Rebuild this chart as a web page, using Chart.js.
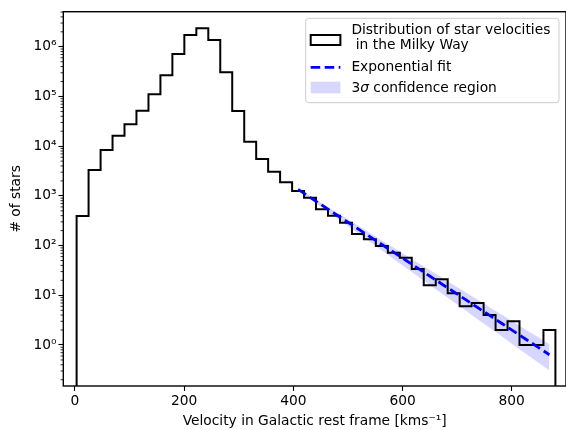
<!DOCTYPE html>
<html>
<head>
<meta charset="utf-8">
<title>Distribution of star velocities</title>
<script src="https://cdn.jsdelivr.net/npm/chart.js@4.4.1/dist/chart.umd.min.js"></script>
<style>
  html, body { margin: 0; padding: 0; background: #fff; }
  #starChart { display: block; }
</style>
</head>
<body>
<canvas id="starChart" width="566" height="430"></canvas>
<script>
// Bords des classes de l'histogramme (km/s)
const binEdges = [3.0, 24.9, 46.9, 68.8, 90.7, 112.6, 134.6, 156.5, 178.4, 200.3,
  222.3, 244.2, 266.1, 288.0, 310.0, 331.9, 353.8, 375.7, 397.7, 419.6,
  441.5, 463.4, 485.4, 507.3, 529.2, 551.1, 573.1, 595.0, 616.9, 638.8,
  660.8, 682.7, 704.6, 726.5, 748.5, 770.4, 792.3, 814.2, 836.2, 858.1, 880.0];

// Nombre d'étoiles par classe
const starCounts = [394, 3320, 8390, 16300, 27600, 51800, 110700, 267000, 716000, 1730000,
  2360000, 1370000, 307000, 51100, 12300, 5530, 3070, 1880, 1260, 920,
  537, 400, 289, 171, 134, 98, 72, 57, 34, 16,
  21, 11, 6, 7, 4, 2, 3, 1, 1, 2];

// Ajustement exponentiel (centres des classes 19 à 40)
const fitStart = 18;
const fitCounts = [1349, 935, 650, 451, 313, 218, 151, 105, 72.9, 50.6, 35.2,
  24.4, 16.9, 11.8, 8.18, 5.67, 3.94, 2.74, 1.90, 1.32, 0.917, 0.637];
const bandUpper = [1413, 1000, 710, 503, 357, 253, 180, 127, 90.2, 63.9, 45.4,
  32.1, 22.8, 16.2, 11.5, 8.13, 5.77, 4.09, 2.90, 2.06, 1.46, 1.03];
const bandLower = [1288, 865, 581, 390, 262, 177, 119, 79.6, 53.5, 35.9, 24.2,
  16.2, 10.9, 7.33, 4.93, 3.31, 2.22, 1.50, 1.00, 0.676, 0.453, 0.305];

// Graduations
const xTickValues = [0, 200, 400, 600, 800];
const yTickValues = [1, 10, 100, 1000, 10000, 100000, 1000000];

const FONT = '"DejaVu Sans", "Liberation Sans", sans-serif';
const FSIZE = 13.8;
const bandColor = 'rgba(0, 0, 255, 0.16)';

Chart.defaults.font.family = FONT;
Chart.defaults.font.size = FSIZE;
Chart.defaults.color = '#000';

// Points en escalier de l'histogramme (fermé jusqu'en bas)
const floorValue = 1e-3;
const lastEdge = binEdges[binEdges.length - 1];
const histPoints = [{ x: binEdges[0], y: floorValue }];
starCounts.forEach((c, i) => histPoints.push({ x: binEdges[i], y: c }));
histPoints.push({ x: lastEdge, y: starCounts[starCounts.length - 1] });
histPoints.push({ x: lastEdge, y: floorValue });

const binCenters = starCounts.map((_, i) => (binEdges[i] + binEdges[i + 1]) / 2);
const fitCenters = binCenters.slice(fitStart);
const toPoints = arr => arr.map((v, i) => ({ x: fitCenters[i], y: v }));

// Ticks mineurs de l'axe log
const minorTicks = [];
for (let e = -1; e <= 6; e++) {
  for (let k = 2; k <= 9; k++) minorTicks.push(k * Math.pow(10, e));
}

const supDigits = { '-': '⁻', '0': '⁰', '1': '¹', '2': '²', '3': '³', '4': '⁴', '5': '⁵', '6': '⁶', '7': '⁷', '8': '⁸', '9': '⁹' };
function powerLabel(v) {
  const e = String(Math.round(Math.log10(v)));
  return '10' + e.split('').map(ch => supDigits[ch]).join('');
}

// Cadre, ticks mineurs et légende
const decorPlugin = {
  id: 'decor',
  afterDatasetsDraw(chart) {
    const { ctx, chartArea: a, scales } = chart;
    const y = scales.y;
    ctx.save();
    ctx.strokeStyle = '#000';
    ctx.lineWidth = 0.8;
    minorTicks.forEach(v => {
      if (v < y.min || v > y.max) return;
      const py = y.getPixelForValue(v);
      ctx.beginPath();
      ctx.moveTo(a.left - 2.8, py);
      ctx.lineTo(a.left, py);
      ctx.stroke();
    });
    ctx.lineWidth = 1.4;
    ctx.strokeRect(a.left, a.top, a.right - a.left, a.bottom - a.top);
    ctx.restore();
  },
  afterDraw(chart) {
    const { ctx, chartArea: a } = chart;
    const ds = chart.data.datasets;
    const boxW = 253.3, boxH = 84.4;
    const bx = a.right - 7 - boxW;
    const by = a.top + 6.6;
    ctx.save();
    ctx.beginPath();
    ctx.roundRect(bx, by, boxW, boxH, 3);
    ctx.fillStyle = 'rgba(255,255,255,0.8)';
    ctx.fill();
    ctx.strokeStyle = '#cccccc';
    ctx.lineWidth = 1;
    ctx.stroke();

    const hx = bx + 5, hw = 29.7, tx = bx + 45.7;
    ctx.font = FSIZE + 'px ' + FONT;
    ctx.fillStyle = '#000';
    ctx.textBaseline = 'middle';

    // histogramme
    ctx.strokeStyle = '#000';
    ctx.lineWidth = 2;
    ctx.strokeRect(hx, by + 16.7, hw, 10);
    const histLines = ds[2].label.split('\n');
    ctx.fillText(histLines[0], tx, by + 12.4);
    ctx.fillText(histLines[1], tx, by + 26.7);

    // ajustement
    ctx.strokeStyle = ds[3].borderColor;
    ctx.lineWidth = ds[3].borderWidth;
    ctx.setLineDash(ds[3].borderDash);
    ctx.beginPath();
    ctx.moveTo(hx, by + 49);
    ctx.lineTo(hx + hw, by + 49);
    ctx.stroke();
    ctx.setLineDash([]);
    ctx.fillText(ds[3].label, tx, by + 49);

    // zone de confiance
    ctx.fillStyle = bandColor;
    ctx.fillRect(hx, by + 63.4, hw, 11.6);
    ctx.fillStyle = '#000';
    const parts = ds[0].label.split('σ');
    let cx = tx;
    ctx.fillText(parts[0], cx, by + 70);
    cx += ctx.measureText(parts[0]).width;
    ctx.font = 'italic ' + FSIZE + 'px ' + FONT;
    ctx.fillText('σ', cx, by + 70);
    cx += ctx.measureText('σ').width;
    ctx.font = FSIZE + 'px ' + FONT;
    ctx.fillText(parts[1], cx, by + 70);
    ctx.restore();
  }
};

const ctx = document.getElementById('starChart').getContext('2d');
window.starChart = new Chart(ctx, {
  type: 'line',
  data: {
    datasets: [
      {
        label: '3σ confidence region',
        data: toPoints(bandUpper),
        borderColor: 'rgba(0,0,0,0)',
        borderWidth: 0,
        backgroundColor: bandColor,
        pointRadius: 0,
        fill: '+1',
        order: 3
      },
      {
        label: 'band lower',
        data: toPoints(bandLower),
        borderColor: 'rgba(0,0,0,0)',
        borderWidth: 0,
        pointRadius: 0,
        fill: false,
        order: 3
      },
      {
        label: 'Distribution of star velocities\n in the Milky Way',
        data: histPoints,
        borderColor: '#000',
        borderWidth: 2,
        pointRadius: 0,
        stepped: 'before',
        fill: false,
        order: 2
      },
      {
        label: 'Exponential fit',
        data: toPoints(fitCounts),
        borderColor: '#0000ff',
        borderWidth: 2.8,
        borderDash: [9.5, 4.5],
        pointRadius: 0,
        fill: false,
        order: 1
      }
    ]
  },
  options: {
    responsive: false,
    animation: false,
    devicePixelRatio: 1,
    layout: { padding: { top: 11.7, right: 0, left: 0, bottom: 0 } },
    plugins: {
      legend: { display: false },
      tooltip: { enabled: false },
      filler: { drawTime: 'beforeDatasetsDraw' }
    },
    scales: {
      x: {
        type: 'linear',
        min: -21.4,
        max: 899.4,
        border: { display: false },
        grid: { drawOnChartArea: false, tickLength: 4.9, tickWidth: 1.1, tickColor: '#000' },
        ticks: { autoSkip: false, maxRotation: 0, padding: 2.5, color: '#000' },
        afterBuildTicks: scale => { scale.ticks = xTickValues.map(v => ({ value: v })); },
        afterFit: scale => { scale.height = 44; },
        title: {
          display: true,
          text: 'Velocity in Galactic rest frame [kms⁻¹]',
          color: '#000',
          padding: { top: 0, bottom: 0.7 }
        }
      },
      y: {
        type: 'logarithmic',
        min: 0.1496,
        max: 5.08e6,
        border: { display: false },
        grid: { drawOnChartArea: false, tickLength: 4.9, tickWidth: 1.1, tickColor: '#000' },
        ticks: {
          autoSkip: false,
          padding: 1.8,
          color: '#000',
          callback: value => powerLabel(value)
        },
        afterBuildTicks: scale => { scale.ticks = yTickValues.map(v => ({ value: v })); },
        afterFit: scale => { scale.width = 63.3; },
        title: {
          display: true,
          text: '# of stars',
          color: '#000',
          padding: { top: 8, bottom: 0 }
        }
      }
    }
  },
  plugins: [decorPlugin]
});
</script>
</body>
</html>
